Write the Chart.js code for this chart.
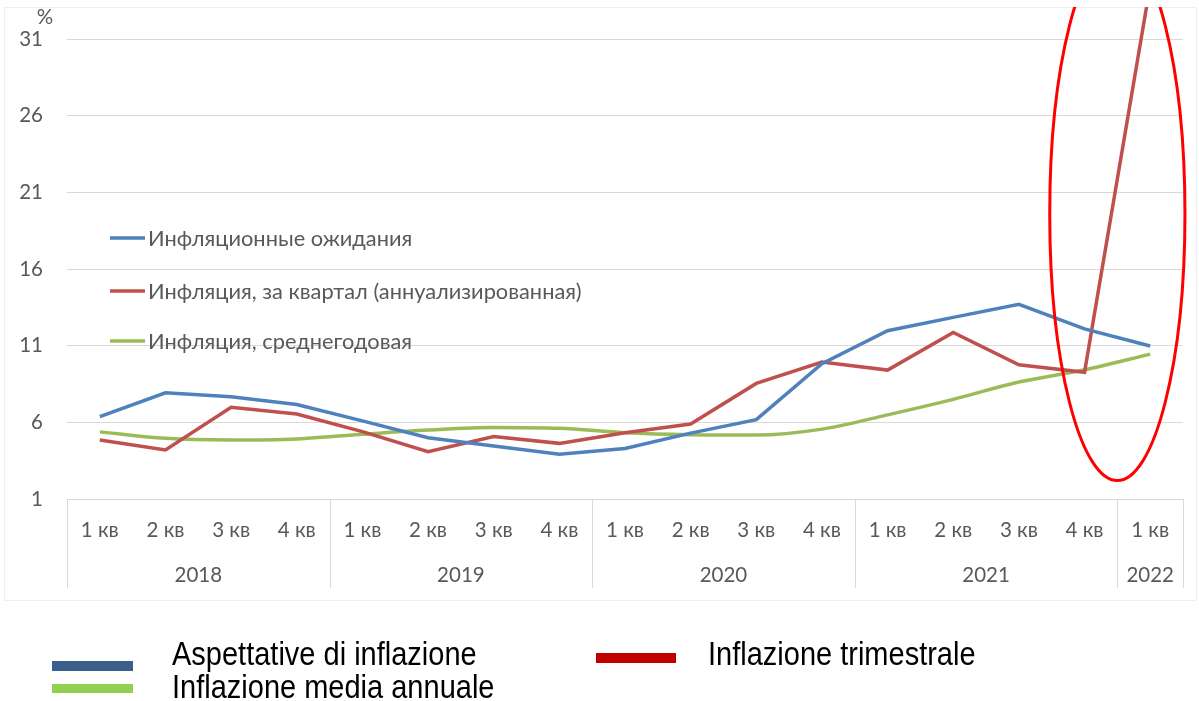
<!DOCTYPE html>
<html>
<head>
<meta charset="utf-8">
<script src="https://cdn.jsdelivr.net/npm/chart.js@4.4.0/dist/chart.umd.min.js"></script>
<style>
html,body{margin:0;padding:0;background:#fff;overflow:hidden}
#wrap{width:1199px;height:701px;position:relative}
</style>
</head>
<body>
<div id="wrap"><canvas id="c" width="1199" height="701"></canvas></div>
<script>
// ---- data ----
const quarters = ['1 кв','2 кв','3 кв','4 кв','1 кв','2 кв','3 кв','4 кв','1 кв','2 кв','3 кв','4 кв','1 кв','2 кв','3 кв','4 кв','1 кв'];
const years = ['2018','2019','2020','2021','2022'];
const quartersPerYear = [4, 4, 4, 4, 1];
const expectations = [6.37, 7.93, 7.67, 7.17, 6.1, 5.0, 4.46, 3.92, 4.3, 5.3, 6.18, 9.83, 11.98, 12.85, 13.7, 12.1, 10.98];
const quarterlyAnnualized = [4.85, 4.2, 6.98, 6.54, 5.4, 4.09, 5.07, 4.63, 5.32, 5.89, 8.54, 9.93, 9.41, 11.86, 9.76, 9.27, 34.5];
const annualAverage = [5.38, 4.96, 4.85, 4.92, 5.22, 5.5, 5.67, 5.61, 5.33, 5.2, 5.17, 5.56, 6.49, 7.5, 8.63, 9.43, 10.45];
const yTicks = [1, 6, 11, 16, 21, 26, 31];
const seriesNamesRu = ['Инфляционные ожидания', 'Инфляция, за квартал (аннуализированная)', 'Инфляция, среднегодовая'];
const legendIt = ['Aspettative di inflazione', 'Inflazione trimestrale', 'Inflazione media annuale'];

const BLUE = '#4F81BD', RED = '#C0504D', GREEN = '#9BBB59';
const TXT = '#595959';
const FONT = 'Lato, "Open Sans", sans-serif';

const overlay = {
  id: 'overlay',
  beforeDraw(chart) {
    const ctx = chart.ctx;
    ctx.save();
    ctx.fillStyle = '#ffffff';
    ctx.fillRect(0, 0, chart.width, chart.height);
    ctx.strokeStyle = '#eeeeee';
    ctx.lineWidth = 1;
    ctx.strokeRect(4.5, 7.5, 1192, 593);
    ctx.restore();
  },
  afterDraw(chart) {
    const {ctx, chartArea: ca, scales: {x, y}} = chart;
    ctx.save();
    // two-level category axis: year separators + year labels
    const bottom = ca.bottom;
    const edges = [ca.left];
    let start = 0;
    quartersPerYear.forEach(n => {
      const end = start + n;
      edges.push(end < quarters.length ? (x.getPixelForValue(end - 1) + x.getPixelForValue(end)) / 2 : ca.right);
      start = end;
    });
    ctx.strokeStyle = '#d9d9d9';
    ctx.lineWidth = 1;
    edges.forEach(e => {
      const px = Math.round(e) + 0.5;
      ctx.beginPath(); ctx.moveTo(px, bottom); ctx.lineTo(px, bottom + 89); ctx.stroke();
    });
    ctx.fillStyle = TXT;
    ctx.font = '20.5px ' + FONT;
    ctx.textAlign = 'center';
    ctx.textBaseline = 'middle';
    years.forEach((yr, i) => ctx.fillText(yr, (edges[i] + edges[i + 1]) / 2, bottom + 76));
    // unit label
    ctx.fillText('%', 45, y.getPixelForValue(yTicks[yTicks.length - 1]) - 22);

    // inner legend (Russian)
    const colors = [BLUE, RED, GREEN];
    const rows = [238, 291, 341];
    ctx.textAlign = 'left';
    ctx.font = '21.8px ' + FONT;
    seriesNamesRu.forEach((name, i) => {
      ctx.strokeStyle = colors[i];
      ctx.lineWidth = 3.5;
      ctx.beginPath(); ctx.moveTo(110, rows[i]); ctx.lineTo(145, rows[i]); ctx.stroke();
      ctx.fillStyle = TXT;
      ctx.fillText(name, 148, rows[i] + 1);
    });

    // red highlight ellipse around the last two quarters
    ctx.save();
    ctx.beginPath();
    ctx.rect(ca.left, ca.top, chart.width - ca.left, ca.height);
    ctx.clip();
    const step = x.getPixelForValue(1) - x.getPixelForValue(0);
    const cx = (x.getPixelForValue(15) + x.getPixelForValue(16)) / 2;
    const cy = y.getPixelForValue(19.6);
    const by = y.getPixelForValue(2.2);
    ctx.strokeStyle = '#FF0000';
    ctx.lineWidth = 3;
    ctx.beginPath();
    ctx.ellipse(cx, cy, step * 1.03, by - cy, 0, 0, Math.PI * 2);
    ctx.stroke();
    ctx.restore();

    // bottom legend (Italian)
    ctx.fillStyle = '#3B5E8C'; ctx.fillRect(52, 661, 81, 10);
    ctx.fillStyle = '#C00000'; ctx.fillRect(596, 653, 80, 10);
    ctx.fillStyle = '#92D050'; ctx.fillRect(52, 684, 81, 9);
    ctx.textBaseline = 'alphabetic';
    ctx.font = '29px "Liberation Sans", Arial, sans-serif';
    ctx.fillStyle = '#000000';
    const sy = 1.12;
    ctx.save();
    ctx.scale(1, sy);
    ctx.fillText(legendIt[0], 172, 665 / sy);
    ctx.fillText(legendIt[1], 708, 665 / sy);
    ctx.fillText(legendIt[2], 172, 698 / sy);
    ctx.restore();
    ctx.restore();
  }
};

new Chart(document.getElementById('c'), {
  type: 'line',
  data: {
    labels: quarters,
    datasets: [
      {label: seriesNamesRu[0], data: expectations, borderColor: BLUE, borderWidth: 3.5, pointRadius: 0, tension: 0},
      {label: seriesNamesRu[1], data: quarterlyAnnualized, borderColor: RED, borderWidth: 3.5, pointRadius: 0, tension: 0},
      {label: seriesNamesRu[2], data: annualAverage, borderColor: GREEN, borderWidth: 3.5, pointRadius: 0, cubicInterpolationMode: 'monotone'}
    ]
  },
  options: {
    responsive: false,
    animation: false,
    devicePixelRatio: 1,
    layout: {padding: {left: 0, right: 16, top: 7, bottom: 0}},
    plugins: {legend: {display: false}, tooltip: {enabled: false}, title: {display: false}},
    scales: {
      x: {
        type: 'category',
        offset: true,
        grid: {display: false, drawTicks: false},
        border: {display: false},
        ticks: {color: TXT, font: {family: FONT, size: 20.5}, padding: 19, maxRotation: 0, autoSkip: false},
        afterFit: s => { s.height = 202; s.paddingLeft = 0; s.paddingRight = 0; }
      },
      y: {
        min: 1,
        max: 33.1,
        grid: {color: '#d9d9d9', lineWidth: 1, drawTicks: false},
        border: {display: false},
        ticks: {color: TXT, font: {family: FONT, size: 20.5}, padding: 24},
        afterBuildTicks: s => { s.ticks = yTicks.map(v => ({value: v})); },
        afterFit: s => { s.width = 67; s.paddingTop = 0; s.paddingBottom = 0; }
      }
    }
  },
  plugins: [overlay]
});
</script>
</body>
</html>
